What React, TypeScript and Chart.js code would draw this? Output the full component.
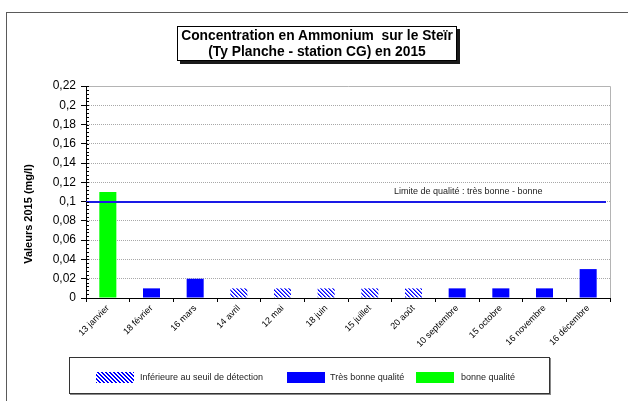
import React, { useEffect, useRef } from "react";
import { Chart, registerables } from "chart.js";

Chart.register(...registerables);

// ---- data ----
const categories: string[] = [
  "13 janvier",
  "18 février",
  "16 mars",
  "14 avril",
  "12 mai",
  "18 juin",
  "15 juillet",
  "20 août",
  "10 septembre",
  "15 octobre",
  "16 novembre",
  "16 décembre",
];
const values: number[] = [0.11, 0.01, 0.02, 0.01, 0.01, 0.01, 0.01, 0.01, 0.01, 0.01, 0.01, 0.03];
// quality class per sample: "bonne" | "tres" | "seuil"
const quality: string[] = [
  "bonne", "tres", "tres", "seuil", "seuil", "seuil", "seuil", "seuil", "tres", "tres", "tres", "tres",
];
const yMin = 0;
const yMax = 0.22;
const yStep = 0.02;
const yMinorStep = 0.004;
const limitValue = 0.1;
const limitLabel = "Limite de qualité : très bonne - bonne";
const titleLines: string[] = ["Concentration en Ammonium  sur le Steïr", "(Ty Planche - station CG) en 2015"];
const yAxisTitle = "Valeurs 2015 (mg/l)";
const legendLabels: string[] = ["Inférieure au seuil de détection", "Très bonne qualité", "bonne qualité"];

const FONT = "'Liberation Sans', Arial, sans-serif";
const BLUE = "#0000ff";
const GREEN = "#00ff00";

function makeHatch(): CanvasPattern | string {
  const c = document.createElement("canvas");
  c.width = 4;
  c.height = 4;
  const g = c.getContext("2d");
  if (!g) return BLUE;
  g.fillStyle = "#ffffff";
  g.fillRect(0, 0, 4, 4);
  for (let y = 0; y < 4; y++) {
    for (let x = 0; x < 4; x++) {
      const m = (((x - y) % 4) + 4) % 4;
      if (m === 0) {
        g.fillStyle = BLUE;
        g.fillRect(x, y, 1, 1);
      } else if (m === 1) {
        g.fillStyle = "#6a6aff";
        g.fillRect(x, y, 1, 1);
      }
    }
  }
  const p = g.createPattern(c, "repeat");
  return p || BLUE;
}

const decorPlugin = {
  id: "decor",
  beforeDatasetsDraw(chart: any) {
    const { ctx, chartArea } = chart;
    ctx.save();
    ctx.strokeStyle = "#b4b4b4";
    ctx.lineWidth = 1;
    ctx.beginPath();
    ctx.moveTo(chartArea.left, chartArea.top + 0.5);
    ctx.lineTo(chartArea.right + 0.5, chartArea.top + 0.5);
    ctx.lineTo(chartArea.right + 0.5, chartArea.bottom);
    ctx.stroke();
    ctx.restore();
  },
  afterDatasetsDraw(chart: any) {
    const { ctx, chartArea, scales } = chart;
    const y = scales.y;
    ctx.save();
    // limit line
    const yl = Math.round(y.getPixelForValue(limitValue));
    ctx.strokeStyle = "#1a1ae6";
    ctx.lineWidth = 2;
    ctx.beginPath();
    ctx.moveTo(chartArea.left, yl);
    ctx.lineTo(chartArea.right - 4, yl);
    ctx.stroke();
    ctx.fillStyle = "#222";
    ctx.font = `9px ${FONT}`;
    ctx.textAlign = "left";
    ctx.textBaseline = "middle";
    ctx.fillText(limitLabel, 394, yl - 10);
    // minor ticks on y axis
    ctx.strokeStyle = "#000";
    ctx.lineWidth = 1;
    ctx.beginPath();
    const n = Math.round((yMax - yMin) / yMinorStep);
    for (let i = 0; i <= n; i++) {
      const py = Math.round(y.getPixelForValue(yMin + i * yMinorStep)) + 0.5;
      ctx.moveTo(chartArea.left, py);
      ctx.lineTo(chartArea.left + 3, py);
    }
    ctx.stroke();
    // y axis title
    ctx.translate(29, 214);
    ctx.rotate(-Math.PI / 2);
    ctx.font = `bold 11px ${FONT}`;
    ctx.textAlign = "center";
    ctx.textBaseline = "middle";
    ctx.fillStyle = "#000";
    ctx.fillText(yAxisTitle, 0, 0);
    ctx.restore();
  },
};

function ChartCanvas() {
  const ref = useRef<HTMLCanvasElement | null>(null);
  useEffect(() => {
    if (!ref.current) return;
    const hatch = makeHatch();
    const colors = quality.map((q) => (q === "bonne" ? GREEN : q === "tres" ? BLUE : hatch));
    const chart = new Chart(ref.current, {
      type: "bar",
      data: {
        labels: categories,
        datasets: [
          {
            data: values,
            backgroundColor: colors as any,
            borderWidth: 0,
            barPercentage: 0.39,
            categoryPercentage: 1,
          },
        ],
      },
      options: {
        animation: false,
        responsive: false,
        maintainAspectRatio: false,
        layout: { padding: { left: 6, right: 18, top: 86, bottom: 43 } },
        plugins: { legend: { display: false }, tooltip: { enabled: false }, title: { display: false } },
        scales: {
          x: {
            grid: {
              offset: true,
              drawOnChartArea: false,
              drawTicks: true,
              tickLength: 4,
              color: "#000",
              tickColor: "#000",
            },
            border: { color: "#000", width: 1 },
            ticks: {
              autoSkip: false,
              maxRotation: 45,
              minRotation: 45,
              padding: 1,
              color: "#000",
              font: { family: FONT, size: 9 },
            },
            afterFit: (s: any) => {
              s.height = 60;
            },
          },
          y: {
            min: yMin,
            max: yMax,
            ticks: {
              stepSize: yStep,
              padding: 5,
              color: "#000",
              font: { family: FONT, size: 12 },
              callback: (v: any) => String(Math.round(Number(v) * 100) / 100).replace(".", ","),
            },
            grid: { color: "#a8a8a8", tickColor: "#000", tickLength: 5, drawTicks: true },
            border: { color: "#000", width: 1, dash: [1, 1] },
            afterFit: (s: any) => {
              s.width = 80;
            },
          },
        },
      },
      plugins: [decorPlugin],
    });
    return () => chart.destroy();
  }, []);
  return (
    <canvas
      ref={ref}
      width={628}
      height={401}
      style={{ position: "absolute", left: 0, top: 0, width: 628, height: 401 }}
    />
  );
}

export default function App() {
  const text9: React.CSSProperties = {
    position: "absolute",
    fontFamily: FONT,
    fontSize: 9,
    color: "#222",
    lineHeight: "11px",
    whiteSpace: "nowrap",
  };
  const swatch = (left: number, bg: string): React.CSSProperties => ({
    position: "absolute",
    left,
    top: 14,
    width: 38,
    height: 11,
    background: bg,
  });
  return (
    <div
      style={{
        position: "absolute",
        left: 0,
        top: 0,
        width: 628,
        height: 401,
        overflow: "hidden",
        background: "#fff",
      }}
    >
      <div
        style={{
          position: "absolute",
          left: 6,
          top: 12,
          width: 700,
          height: 500,
          border: "1px solid #5a5a5a",
          boxSizing: "border-box",
        }}
      />
      <ChartCanvas />
      <div
        style={{
          position: "absolute",
          left: 177,
          top: 26,
          width: 280,
          height: 35,
          boxSizing: "border-box",
          border: "1px solid #000",
          background: "#fff",
          boxShadow: "3px 3px 0 #1a1a1a",
          fontFamily: FONT,
          fontWeight: "bold",
          fontSize: 13.8,
          lineHeight: "16px",
          textAlign: "center",
          whiteSpace: "pre",
          paddingTop: 1,
          color: "#000",
        }}
      >
        {titleLines.map((t, i) => (
          <div key={i}>{t}</div>
        ))}
      </div>
      <div
        style={{
          position: "absolute",
          left: 69,
          top: 357,
          width: 481,
          height: 37,
          boxSizing: "border-box",
          border: "1px solid #333",
          boxShadow: "1px 1px 0 #888",
          background: "#fff",
        }}
      >
        <div
          style={swatch(26, `repeating-linear-gradient(45deg, ${BLUE} 0px, ${BLUE} 1.4px, #fff 1.4px, #fff 2.8px)`)}
        />
        <div style={{ ...text9, left: 70, top: 14 }}>{legendLabels[0]}</div>
        <div style={swatch(217, BLUE)} />
        <div style={{ ...text9, left: 260, top: 14 }}>{legendLabels[1]}</div>
        <div style={swatch(346, GREEN)} />
        <div style={{ ...text9, left: 391, top: 14 }}>{legendLabels[2]}</div>
      </div>
    </div>
  );
}
